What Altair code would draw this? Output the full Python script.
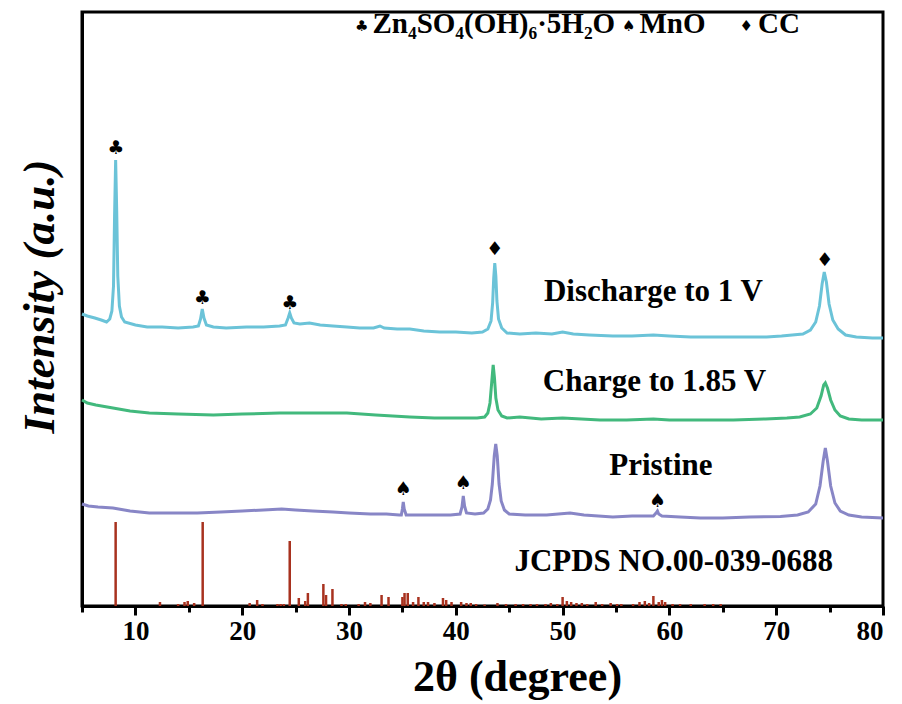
import altair as alt
import pandas as pd

# ---------------- data ----------------
dis_x = [5.0, 5.5, 6.2, 6.8, 7.3, 7.6, 7.8, 7.95, 8.05, 8.15, 8.25, 8.35, 8.5, 8.7, 9.0, 10.0, 11.1, 12.5,
         14.0, 15.4, 15.9, 16.1, 16.26, 16.42, 16.65, 17.3, 18.5, 20.4, 22.0, 23.5, 24.05, 24.3, 24.45, 24.6,
         24.85, 25.4, 26.3, 27.3, 28.5, 29.8, 31.0, 32.3, 32.9, 33.3, 34.5, 35.7, 37.0, 38.5, 40.0, 41.5,
         42.5, 43.0, 43.3, 43.45, 43.55, 43.65, 43.75, 43.85, 44.0, 44.3, 44.8, 46.0, 47.5, 49.0, 50.0, 51.0,
         52.5, 54.7, 56.5, 58.5, 60.0, 62.0, 63.8, 65.5, 67.5, 69.1, 70.5, 71.5, 72.5, 73.2, 73.7, 74.05,
         74.3, 74.5, 74.7, 74.95, 75.3, 75.8, 76.5, 77.5, 79.0, 80.0]
dis_y = [292, 290, 288, 286, 284, 287, 295, 320, 390, 446, 395, 330, 300, 289, 284, 281, 279, 279,
         278, 279, 280, 287, 297, 288, 281, 279, 278, 279, 279, 280, 281, 288, 293, 288,
         283, 282, 283, 281, 280, 279, 278, 278, 280, 278, 277, 277, 275, 274, 274, 273,
         274, 277, 285, 303, 328, 343, 330, 305, 287, 278, 273, 272, 273, 272, 274, 272,
         271, 270, 270, 271, 270, 269, 269, 269, 269, 269, 270, 271, 272, 276, 284, 300,
         322, 334, 324, 302, 286, 277, 271, 269, 268, 268]

chg_x = [5.0, 5.5, 6.3, 7.9, 9.5, 11.3, 14.0, 17.3, 20.0, 23.5, 26.5, 29.8, 32.5, 35.7, 38.0, 40.0, 42.0,
         42.7, 43.0, 43.2, 43.35, 43.5, 43.62, 43.75, 43.95, 44.3, 44.8, 46.0, 48.0, 50.0, 53.5, 56.0, 58.5,
         60.0, 62.9, 66.0, 69.0, 71.0, 72.2, 73.2, 73.8, 74.2, 74.45, 74.6, 74.8, 75.1, 75.5, 76.0, 76.8,
         78.0, 80.0]
chg_y = [206, 203, 201, 198, 195, 193, 192, 191, 192, 193, 193, 193, 191, 189, 188, 188, 188,
         189, 193, 203, 222, 241, 228, 208, 196, 190, 188, 189, 187, 188, 186, 186, 187,
         186, 186, 186, 187, 188, 189, 192, 198, 210, 221, 223, 218, 206, 196, 190, 187,
         186, 186]

pri_x = [5.0, 5.6, 6.5, 7.9, 9.5, 11.3, 13.5, 15.8, 18.0, 20.0, 22.0, 23.7, 25.0, 26.6, 28.5, 30.0, 32.0,
         33.5, 34.7, 34.9, 35.0, 35.08, 35.17, 35.35, 36.5, 38.0, 39.5, 40.4, 40.58, 40.7, 40.82, 41.0,
         41.8, 42.6, 43.0, 43.25, 43.42, 43.6, 43.74, 43.88, 44.05, 44.25, 44.55, 45.0, 46.5, 48.5, 50.7,
         52.0, 54.7, 56.5, 58.5, 58.75, 58.88, 59.0, 59.3, 61.0, 62.9, 65.0, 67.5, 70.4, 72.0, 73.0, 73.7,
         74.1, 74.4, 74.6, 74.8, 75.1, 75.5, 76.0, 76.8, 78.0, 80.0]
pri_y = [102, 100, 99, 98, 95, 93, 93, 93, 94, 95, 96, 97, 96, 95, 94, 93, 92,
         92, 91, 91, 97, 104, 97, 91, 91, 91, 91, 92, 99, 110, 100, 93,
         92, 93, 97, 106, 122, 150, 162, 150, 122, 105, 96, 92, 91, 91, 93,
         91, 89, 90, 90, 93, 95, 92, 90, 89, 88, 88, 89, 89.5, 91, 94, 102,
         120, 145, 158, 145, 120, 103, 95, 91, 89, 88]

stick_x = [8.15, 12.3, 14.0, 14.6, 14.9, 15.5, 16.3, 20.7, 21.4, 21.9, 23.3, 23.6, 23.9, 24.45, 25.3, 25.9,
           26.15, 27.6, 27.85, 28.45, 29.3, 29.7, 30.9, 31.5, 32.0, 33.05, 33.7, 35.0, 35.2, 35.5, 36.0,
           36.5, 37.0, 37.4, 38.0, 38.8, 39.1, 39.6, 40.5, 41.0, 41.4, 41.9, 42.7, 43.9, 44.7, 45.6, 46.3,
           47.0, 47.6, 48.4, 48.9, 49.5, 50.0, 50.4, 50.8, 51.3, 51.8, 52.3, 53.1, 53.7, 54.5, 55.1, 55.5,
           56.6, 57.2, 57.7, 58.1, 58.5, 59.0, 59.3, 59.6, 60.3, 61.0, 62.0, 63.3, 64.1, 64.8]
stick_h = [84, 4, 2, 4, 5, 3, 84, 3, 6, 2, 2, 2, 2, 65, 8, 5,
           13, 22, 11, 17, 2, 2, 2, 4, 3, 11, 9, 9, 13, 13, 4,
           9, 4, 4, 3, 8, 6, 4, 4, 3, 3, 2, 1.5, 3, 2, 2, 2,
           2, 2, 2, 3, 2, 9, 5, 4, 3, 3, 2, 4, 2, 3, 2, 2,
           2, 4, 5, 3, 10, 4, 6, 4, 2, 2, 2, 2, 2, 2]

series_names = ["Discharge", "Charge", "Pristine"]
series_colors = ["#6BC3D8", "#42B97D", "#8886C6"]

mark_x = [8.15, 16.26, 24.45, 43.65, 74.55, 35.08, 40.7, 58.88]
mark_y = [458, 308, 303, 357, 346, 117, 123, 105]
mark_glyph = ["♣", "♣", "♣", "♦", "♦", "♠", "♠", "♠"]

label_text = ["Discharge to 1 V", "Charge to 1.85 V", "Pristine", "JCPDS NO.00-039-0688"]
label_x = [58.5, 58.6, 59.2, 60.4]
label_y = [314, 224, 140, 44]

key_glyph = ["♣", "♠", "♦"]
key_glyph_x = [31.2, 56.2, 67.2]
key_text = ["Zn₄SO₄(OH)₆·5H₂O", "MnO", "CC"]
key_text_x = [32.2, 57.2, 68.3]
key_y = 582

# ---------------- build tables ----------------
lines = pd.concat([
    pd.DataFrame({"x": dis_x, "y": dis_y, "series": "Discharge"}),
    pd.DataFrame({"x": chg_x, "y": chg_y, "series": "Charge"}),
    pd.DataFrame({"x": pri_x, "y": pri_y, "series": "Pristine"}),
])
sticks = pd.DataFrame({"x": stick_x, "h": stick_h, "b": 0})
marks = pd.DataFrame({"x": mark_x, "y": mark_y, "g": mark_glyph})
labels = pd.DataFrame({"x": label_x, "y": label_y, "t": label_text})
keyg = pd.DataFrame({"x": key_glyph_x, "y": key_y, "g": key_glyph})
keyt = pd.DataFrame({"x": key_text_x, "y": key_y, "t": key_text})

FONT = "Liberation Serif"
xscale = alt.Scale(domain=[5, 80], nice=False, zero=False)
yscale = alt.Scale(domain=[0, 594], nice=False, zero=False)

xaxis = alt.Axis(
    values=list(range(5, 81, 5)),
    labelExpr="datum.value % 10 === 0 ? datum.label : ''",
    tickSize={"condition": {"test": "datum.value % 10 === 0", "value": 9}, "value": 6},
    tickWidth=3, tickColor="black", domainWidth=3, domainColor="black",
    labelFont=FONT, labelFontWeight="bold", labelFontSize=27, labelColor="black", labelPadding=3,
    title="2θ (degree)", titleFont=FONT, titleFontWeight="bold", titleFontSize=44,
    titleColor="black", titlePadding=11, titleX=435, grid=False,
)
yaxis = alt.Axis(
    labels=False, ticks=False, domainWidth=3, domainColor="black", grid=False,
    title="Intensity (a.u.)", titleFont=FONT, titleFontWeight="bold", titleFontStyle="italic",
    titleFontSize=45, titleColor="black", titlePadding=20, titleY=284,
)

line = alt.Chart(lines).mark_line(strokeWidth=3).encode(
    x=alt.X("x:Q", scale=xscale, axis=xaxis),
    y=alt.Y("y:Q", scale=yscale, axis=yaxis),
    color=alt.Color("series:N", scale=alt.Scale(domain=series_names, range=series_colors), legend=None),
    order="x:Q",
)

stick = alt.Chart(sticks).mark_rule(strokeWidth=2.5, color="#A8321F").encode(
    x="x:Q", y="b:Q", y2="h:Q",
)

glyphs = alt.Chart(marks).mark_text(font="DejaVu Sans", fontSize=19, color="black", baseline="middle").encode(
    x="x:Q", y="y:Q", text="g:N",
)

texts = alt.Chart(labels).mark_text(font=FONT, fontWeight="bold", fontSize=31, color="black",
                                    baseline="middle", align="center").encode(
    x="x:Q", y="y:Q", text="t:N",
)

kg = alt.Chart(keyg).mark_text(font="DejaVu Sans", fontSize=15, color="black", baseline="middle",
                               align="center", dy=2).encode(x="x:Q", y="y:Q", text="g:N")
kt = alt.Chart(keyt).mark_text(font=FONT, fontWeight="bold", fontSize=29, color="black", baseline="middle",
                               align="left").encode(x="x:Q", y="y:Q", text="t:N")

chart = alt.layer(stick, line, glyphs, texts, kg, kt).properties(
    width=801, height=594,
    autosize=alt.AutoSizeParams(type="none"),
    padding={"left": 82, "top": 12, "right": 19, "bottom": 98},
    background="white",
).configure_view(stroke="black", strokeWidth=3)

chart.save("out.html", embed_options={"renderer": "svg", "actions": False})
